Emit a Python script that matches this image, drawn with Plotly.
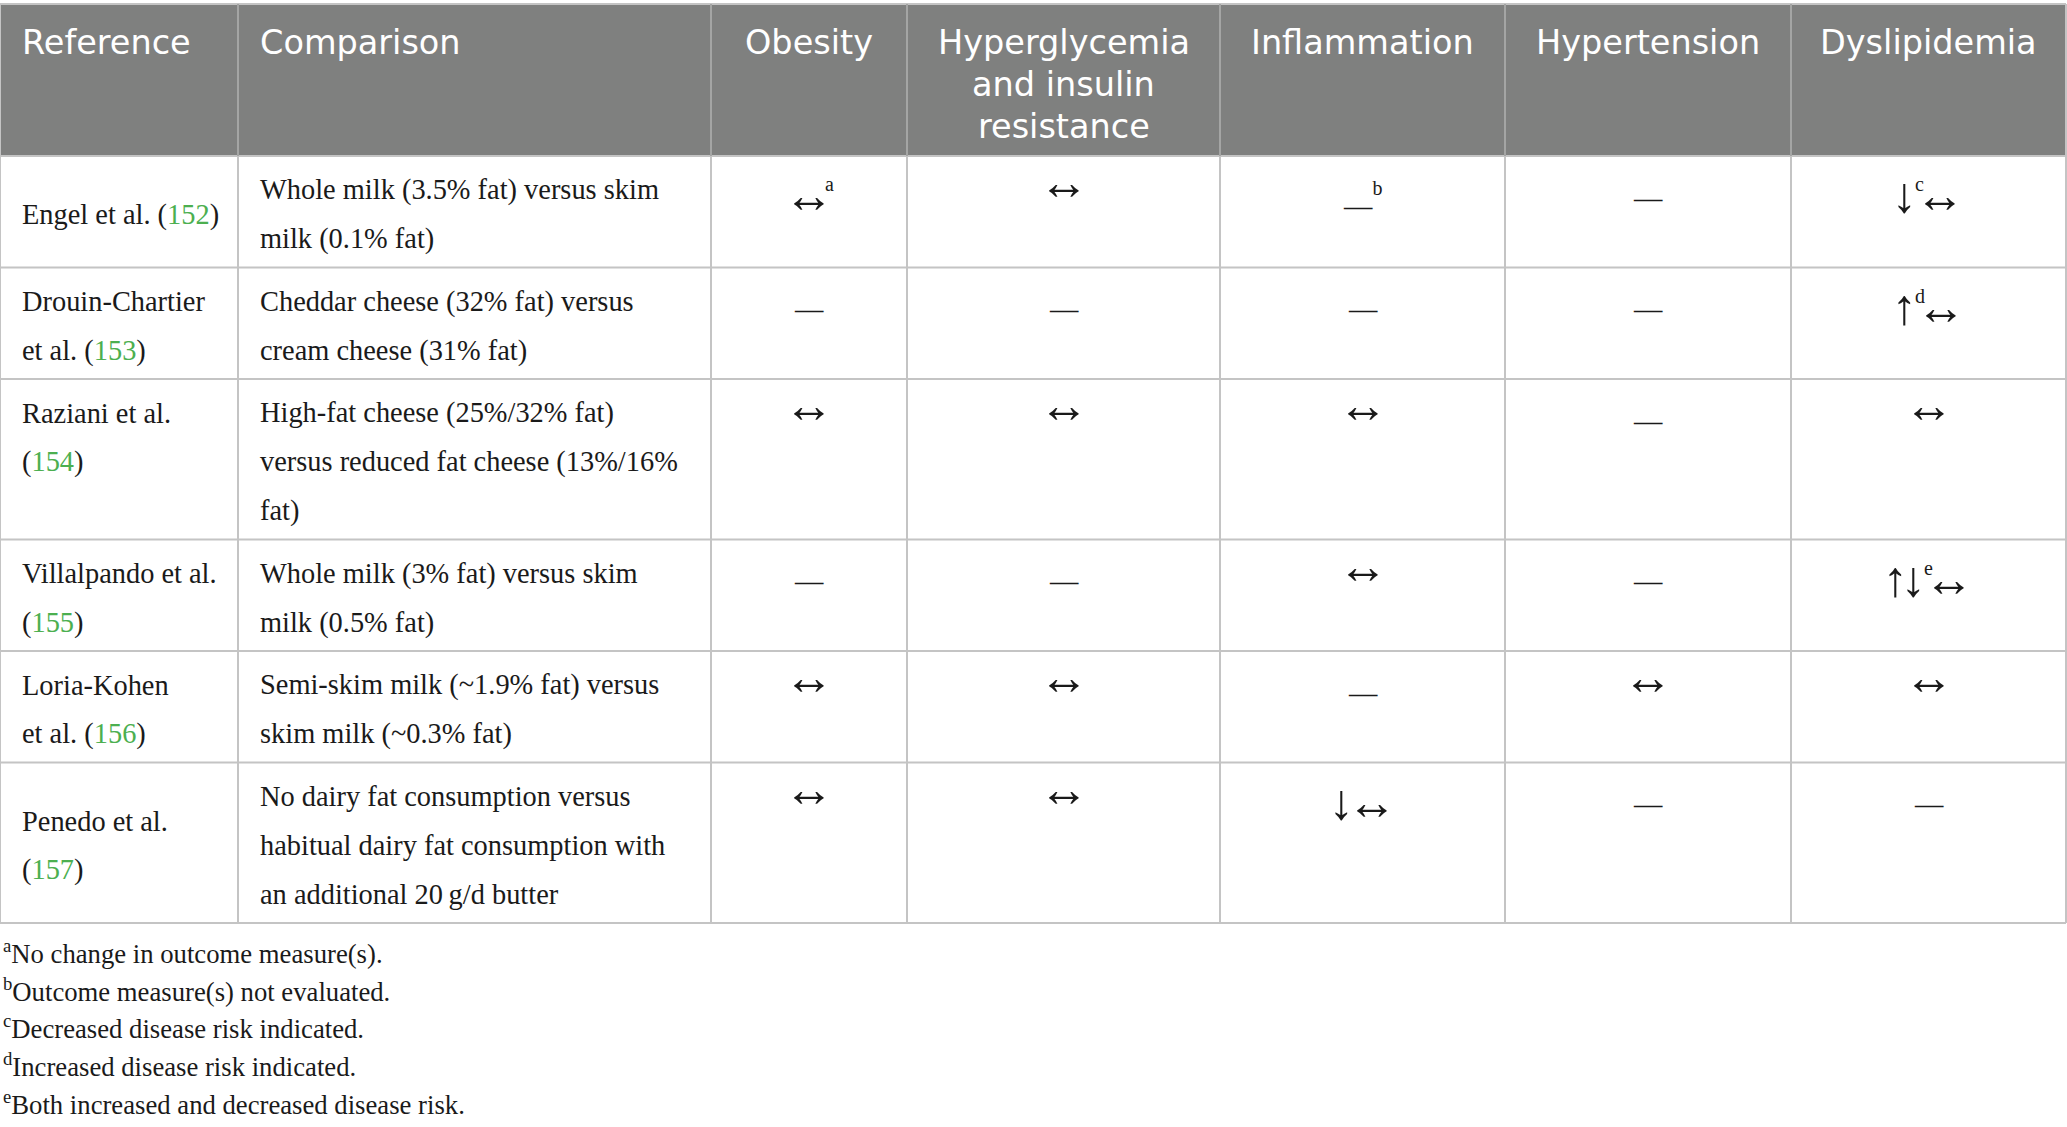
import re
import plotly.graph_objects as go

# ---------------- data ----------------
header_reference = "Reference"
header_comparison = "Comparison"
outcome_headers = [
    ["Obesity"],
    ["Hyperglycemia", "and insulin", "resistance"],
    ["Inflammation"],
    ["Hypertension"],
    ["Dyslipidemia"],
]

reference_lines = [
    ["Engel et al. ({})"],
    ["Drouin-Chartier", "et al. ({})"],
    ["Raziani et al.", "({})"],
    ["Villalpando et al.", "({})"],
    ["Loria-Kohen", "et al. ({})"],
    ["Penedo et al.", "({})"],
]
citations = [152, 153, 154, 155, 156, 157]

comparison_lines = [
    ["Whole milk (3.5% fat) versus skim", "milk (0.1% fat)"],
    ["Cheddar cheese (32% fat) versus", "cream cheese (31% fat)"],
    ["High-fat cheese (25%/32% fat)", "versus reduced fat cheese (13%/16%", "fat)"],
    ["Whole milk (3% fat) versus skim", "milk (0.5% fat)"],
    ["Semi-skim milk (~1.9% fat) versus", "skim milk (~0.3% fat)"],
    ["No dairy fat consumption versus", "habitual dairy fat consumption with",
     "an additional 20\u2009g/d butter"],
]

obesity = ["↔<sup>a</sup>", "—", "↔", "—", "↔", "↔"]
hyperglycemia = ["↔", "—", "↔", "—", "↔", "↔"]
inflammation = ["—<sup>b</sup>", "—", "↔", "↔", "—", "↓↔"]
hypertension = ["—", "—", "—", "—", "↔", "—"]
dyslipidemia = ["↓<sup>c</sup>↔", "↑<sup>d</sup>↔", "↔", "↑↓<sup>e</sup>↔", "↔", "—"]
outcome_columns = [obesity, hyperglycemia, inflammation, hypertension, dyslipidemia]

footnote_marks = ["a", "b", "c", "d", "e"]
footnote_texts = [
    "No change in outcome measure(s).",
    "Outcome measure(s) not evaluated.",
    "Decreased disease risk indicated.",
    "Increased disease risk indicated.",
    "Both increased and decreased disease risk.",
]

# ---------------- layout / style ----------------
W, H = 2067, 1127
COL_WIDTHS = [238, 473, 196, 313, 285, 286, 275]
REF_VALIGN = ["middle", "middle", "top", "middle", "middle", "middle"]
TABLE_TOP = 4
HEADER_H = 152
LINE_H = 49
CELL_VPAD = 6.75
FIRST_LINE = 34
ARROW_FIRST = 26
ARROW_RAISE = 13
DASH_FIRST = 42
DASH_SUP_OFF = 43
TEXT_PAD = 20
HEAD_LINE_H = 42
HEAD_FIRST = 38

HEADER_FILL = "#7f807f"
HEADER_GRID = "#a4a5a4"
GRID = "#c4c4c4"
TEXT = "#1a1a1a"
GREEN = "#4caf50"
SERIF = "Liberation Serif"
SANS = "DejaVu Sans"
ARROW_SIZE = 50
SUP_SIZE = 20
# letter-spacing (px) applied after a token, keyed by (token, kind of next token)
TRACK = {("↔", "sup"): -9, ("↓", "sup"): -2, ("↑", "sup"): -2,
         ("sup", "arrow"): -9, ("↑", "arrow"): -7, ("↓", "arrow"): -7}
BODY_SIZE = 28.4
HEAD_SIZE = 33.5
NOTE_SIZE = 26.7
NOTE_LINE_H = 37.7
NOTE_FIRST = 29

col_edges = [0]
for w in COL_WIDTHS:
    col_edges.append(col_edges[-1] + w)

row_edges = [TABLE_TOP, TABLE_TOP + HEADER_H]
for refl, comp in zip(reference_lines, comparison_lines):
    n = max(len(refl), len(comp))
    row_edges.append(row_edges[-1] + 2 * CELL_VPAD + LINE_H * n)
table_bottom = row_edges[-1]

shapes = []
annotations = []

# header fill
shapes.append(dict(type="rect", xref="x", yref="y", x0=col_edges[0], x1=col_edges[-1],
                   y0=row_edges[0], y1=row_edges[1], fillcolor=HEADER_FILL,
                   line=dict(width=0), layer="below"))

# grid lines
for y in row_edges:
    shapes.append(dict(type="line", xref="x", yref="y", x0=col_edges[0], x1=col_edges[-1],
                       y0=y, y1=y, line=dict(color=GRID, width=2)))
for i, x in enumerate(col_edges):
    outer = i == 0 or i == len(col_edges) - 1
    shapes.append(dict(type="line", xref="x", yref="y", x0=x, x1=x,
                       y0=row_edges[0], y1=row_edges[1],
                       line=dict(color=GRID if outer else HEADER_GRID, width=2)))
    shapes.append(dict(type="line", xref="x", yref="y", x0=x, x1=x,
                       y0=row_edges[1], y1=table_bottom, line=dict(color=GRID, width=2)))


def add_text(x, y, text, xanchor, font_family, size, color):
    annotations.append(dict(x=x, y=y, xref="x", yref="y", text=text, showarrow=False,
                            xanchor=xanchor, yanchor="middle",
                            font=dict(family=font_family, size=size, color=color)))


def kind_of(tok):
    if tok.startswith("<sup>"):
        return "sup"
    if tok in "↔↑↓":
        return "arrow"
    if tok == "—":
        return "dash"
    return "other"


def symbol_markup(val):
    """Return (markup, base font size, vertical offset) for an outcome cell."""
    toks = re.findall(r"<sup>.*?</sup>|.", val)
    kinds = [kind_of(t) for t in toks]
    if all(k == "dash" for k in kinds):
        return val, BODY_SIZE, DASH_FIRST
    out = ""
    for i, (t, k) in enumerate(zip(toks, kinds)):
        nxt = kinds[i + 1] if i + 1 < len(kinds) else None
        key = "sup" if k == "sup" else t
        tr = TRACK.get((key, nxt), 0)
        ls = ";letter-spacing:%dpx" % tr if tr else ""
        if k == "sup":
            letter = t[5:-6]
            out += "<sup><span style='font-size:%dpx%s'>%s</span></sup>" % (SUP_SIZE, ls, letter)
        elif k == "dash":
            out += "<span style='font-size:%spx%s'>%s</span>" % (BODY_SIZE, ls, t)
        elif tr:
            out += "<span style='letter-spacing:%dpx'>%s</span>" % (tr, t)
        else:
            out += t
    if "arrow" not in kinds:
        return out, ARROW_SIZE, DASH_SUP_OFF
    raised = ("sup" in kinds) or ("↑" in val) or ("↓" in val)
    return out, ARROW_SIZE, ARROW_FIRST + (ARROW_RAISE if raised else 0)


# header texts
head_cols = [[header_reference], [header_comparison]] + outcome_headers
for c, lines in enumerate(head_cols):
    left = col_edges[c]
    right = col_edges[c + 1]
    if c < 2:
        x, xa = left + TEXT_PAD, "left"
    else:
        x, xa = (left + right) / 2, "center"
    for i, line in enumerate(lines):
        add_text(x, row_edges[0] + HEAD_FIRST + i * HEAD_LINE_H, line, xa, SANS, HEAD_SIZE, "white")

# body rows
for r in range(len(reference_lines)):
    top = row_edges[r + 1]
    bot = row_edges[r + 2]
    # reference column
    lines = [ln.format("<span style='color:%s'>%d</span>" % (GREEN, citations[r]))
             for ln in reference_lines[r]]
    n = len(lines)
    for i, ln in enumerate(lines):
        if REF_VALIGN[r] == "top":
            y = top + FIRST_LINE + i * LINE_H
        else:
            y = (top + bot) / 2 + 3 + (i - (n - 1) / 2) * LINE_H
        add_text(col_edges[0] + TEXT_PAD, y, ln, "left", SERIF, BODY_SIZE, TEXT)
    # comparison column
    for i, ln in enumerate(comparison_lines[r]):
        add_text(col_edges[1] + TEXT_PAD, top + FIRST_LINE + i * LINE_H, ln, "left",
                 SERIF, BODY_SIZE, TEXT)
    # outcome columns
    for k, col in enumerate(outcome_columns):
        markup, size, off = symbol_markup(col[r])
        cx = (col_edges[k + 2] + col_edges[k + 3]) / 2
        add_text(cx, top + off, markup, "center", SERIF, size, TEXT)

# footnotes
for i, (m, t) in enumerate(zip(footnote_marks, footnote_texts)):
    add_text(1, table_bottom + NOTE_FIRST + i * NOTE_LINE_H, "<sup>%s</sup>%s" % (m, t),
             "left", SERIF, NOTE_SIZE, TEXT)

fig = go.Figure()
fig.update_layout(
    width=W, height=H,
    margin=dict(l=0, r=0, t=0, b=0),
    paper_bgcolor="white", plot_bgcolor="white",
    xaxis=dict(range=[0, W], visible=False, fixedrange=True),
    yaxis=dict(range=[H, 0], visible=False, fixedrange=True),
    showlegend=False,
    shapes=shapes,
    annotations=annotations,
)

fig.write_html("out.html", config={"displayModeBar": False},
               post_script="document.body.style.margin='0';document.body.style.overflow='hidden';")
